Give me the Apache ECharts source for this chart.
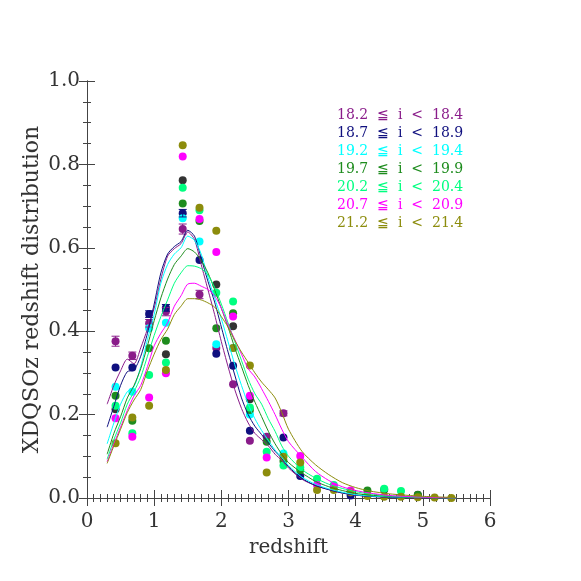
<!DOCTYPE html>
<html>
<head>
<meta charset="utf-8">
<script src="https://cdn.jsdelivr.net/npm/echarts@6/dist/echarts.min.js"></script>
<style>html,body{margin:0;padding:0;background:#fff}#c{width:581px;height:581px}</style>
</head>
<body>
<div id="c"></div>
<script>
// ---------- data ----------
const binNames = ['18.2  ≦  i  <  18.4','18.7  ≦  i  <  18.9','19.2  ≦  i  <  19.4','19.7  ≦  i  <  19.9','20.2  ≦  i  <  20.4','20.7  ≦  i  <  20.9','21.2  ≦  i  <  21.4'];
const binColors = ['#8a1c8a','#10107f','#00ffff','#1e8c1e','#00ff80','#ff00ff','#8c8c0c'];

// redshift grid of the model curves
const zCurve = [0.3,0.4,0.5,0.6,0.7,0.8,0.9,1.0,1.1,1.2,1.3,1.4,1.5,1.6,1.7,1.8,1.9,2.0,2.1,2.2,2.3,2.4,2.5,2.6,2.7,2.8,2.9,3.0,3.2,3.4,3.6,3.8,4.0,4.2,4.5,5.0,5.5];
const curve182 = [.225,.27,.305,.333,.322,.36,.405,.455,.525,.58,.598,.61,.638,.62,.56,.50,.44,.375,.315,.26,.215,.18,.155,.14,.125,.105,.09,.072,.045,.03,.02,.012,.007,.004,.002,0,0];
const curve187 = [.17,.22,.27,.303,.307,.34,.395,.465,.54,.585,.603,.615,.642,.628,.575,.52,.47,.41,.35,.295,.24,.20,.172,.152,.132,.112,.095,.075,.047,.03,.02,.012,.007,.004,.002,0,0];
const curve192 = [.13,.18,.225,.255,.267,.315,.38,.44,.515,.56,.585,.60,.628,.618,.585,.53,.48,.43,.375,.32,.27,.225,.19,.162,.138,.115,.097,.078,.05,.033,.022,.014,.008,.005,.003,.001,0];
const curve197 = [.105,.155,.195,.24,.27,.31,.365,.425,.48,.525,.56,.58,.598,.59,.57,.54,.50,.455,.41,.36,.315,.27,.23,.195,.16,.13,.105,.085,.06,.04,.027,.018,.011,.007,.004,.001,0];
const curve202 = [.093,.14,.18,.225,.255,.29,.34,.39,.435,.475,.515,.54,.557,.556,.55,.535,.505,.465,.42,.375,.33,.285,.25,.225,.19,.16,.125,.10,.068,.048,.033,.023,.015,.01,.005,.002,0];
const curve207 = [.087,.13,.17,.21,.245,.27,.315,.365,.395,.42,.46,.485,.513,.515,.508,.50,.485,.455,.415,.38,.345,.31,.29,.262,.232,.20,.165,.135,.098,.064,.042,.027,.018,.012,.006,.002,0];
const curve212 = [.083,.125,.165,.205,.235,.26,.305,.345,.38,.405,.44,.46,.478,.478,.475,.468,.458,.435,.41,.378,.35,.325,.30,.278,.26,.24,.205,.165,.112,.08,.056,.037,.025,.017,.01,.004,.001];
const curves = [curve182,curve187,curve192,curve197,curve202,curve207,curve212];

// redshift bin centres of the measured points
const zBins = [0.425,0.675,0.925,1.175,1.425,1.675,1.925,2.175,2.425,2.675,2.925,3.175,3.425,3.675,3.925,4.175,4.425,4.675,4.925,5.175,5.425];
const n = null;
const pts182 = [.376,.341,.419,.447,.645,.488,.36,.273,.137,.147,.203,n,n,n,n,n,n,n,n,n,n];
const pts187 = [.313,.313,.441,.456,.683,.571,.346,.317,.161,n,.145,.053,n,n,.006,n,n,n,n,n,n];
const pts192 = [.267,.255,.407,.42,.671,.615,.369,.36,.20,n,.107,n,n,n,n,n,n,n,n,n,n];
const pts197 = [.245,.185,.359,.377,.706,.664,.407,.443,.211,.135,.089,.067,n,n,n,.018,n,n,.007,n,n];
const pts202 = [.221,.155,.295,.325,.744,.69,.492,.471,.217,.111,.078,.074,.046,.031,n,n,.022,.017,n,n,n];
const pts207 = [.191,.147,.241,.299,.819,.669,.59,.435,.245,.097,n,.101,.031,.027,.018,n,n,n,n,n,n];
const pts212 = [.131,.193,.221,.307,.846,.696,.641,.36,.318,.061,.099,.085,.019,.019,.014,.005,.003,.003,.002,.001,0];
const ptsAll = [.213,n,n,.345,.762,n,.512,.412,.237,n,n,n,n,n,n,n,.02,n,.008,n,n];
const points = [pts182,pts187,pts192,pts197,pts202,pts207,pts212];
const err182 = [.012,.009,.009,.01,.012,.01,n,n,n,n,.006,n,n,n,n,n,n,n,n,n,n];
const err187 = [n,n,.008,.008,.009,n,n,n,n,n,n,n,n,n,n,n,n,n,n,n,n];

const xTicks = [0,1,2,3,4,5,6];
const yTicks = [0.0,0.2,0.4,0.6,0.8,1.0];

// ---------- chart ----------
const FONT = 'DejaVu Serif';
const TXT = '#333';
const chart = echarts.init(document.getElementById('c'), null, {renderer:'canvas'});

function pairs(xs, ys){ const out=[]; xs.forEach((x,i)=>{ if(ys[i]!==null) out.push([x,ys[i]]); }); return out; }
function errData(ys, es){ const out=[]; zBins.forEach((x,i)=>{ if(ys[i]!==null && es[i]!==null) out.push([x,ys[i],es[i]]); }); return out; }
function errSeries(name, color, data){
  return {
    type:'custom', name:name, z:3, silent:true,
    renderItem:function(params, api){
      const x=api.value(0), y=api.value(1), e=api.value(2);
      const hi=api.coord([x,y+e]), lo=api.coord([x,y-e]);
      const w=4, st={stroke:color,lineWidth:1};
      return {type:'group',children:[
        {type:'line',shape:{x1:hi[0],y1:hi[1],x2:lo[0],y2:lo[1]},style:st},
        {type:'line',shape:{x1:hi[0]-w,y1:hi[1],x2:hi[0]+w,y2:hi[1]},style:st},
        {type:'line',shape:{x1:lo[0]-w,y1:lo[1],x2:lo[0]+w,y2:lo[1]},style:st}
      ]};
    },
    data:data
  };
}

const series = [];
series.push({type:'scatter', name:'all', data:pairs(zBins, ptsAll), symbolSize:8, itemStyle:{color:'#000'}, z:2});
for(let k=0;k<7;k++){
  series.push({type:'scatter', name:binNames[k], data:pairs(zBins, points[k]), symbolSize:8, itemStyle:{color:binColors[k], opacity:1}, z:2});
}
series.push(errSeries(binNames[0], binColors[0], errData(pts182, err182)));
series.push(errSeries(binNames[1], binColors[1], errData(pts187, err187)));
for(let k=0;k<7;k++){
  series.push({type:'line', name:binNames[k], data:pairs(zCurve, curves[k]), smooth:0.25, showSymbol:false, lineStyle:{color:binColors[k], width:1}, itemStyle:{color:binColors[k]}, z:4});
}

const axisLineStyle = {color:'#444', width:1};
const option = {
  animation:false,
  backgroundColor:'#fff',
  grid:{left:87, right:91, top:81, bottom:83, containLabel:false},
  legend:{
    orient:'vertical', left:327, top:103, itemGap:4, itemWidth:0, itemHeight:0, icon:'none',
    selectedMode:false,
    data:binNames.map((nm,i)=>({name:nm, icon:'none', textStyle:{color:binColors[i]}})),
    textStyle:{fontFamily:FONT, fontSize:14, lineHeight:14}
  },
  xAxis:[
    {type:'value', min:0, max:6, interval:1, position:'bottom',
     name:'redshift', nameLocation:'middle', nameGap:40,
     nameTextStyle:{fontFamily:FONT, fontSize:20, color:TXT},
     axisLine:{show:true, lineStyle:axisLineStyle},
     axisTick:{show:true, inside:true, length:8, lineStyle:axisLineStyle},
     minorTick:{show:true, splitNumber:10, length:4, lineStyle:axisLineStyle},
     axisLabel:{fontFamily:FONT, fontSize:20, color:TXT, margin:14, formatter:v=>String(v)},
     splitLine:{show:false}},
    {type:'value', min:0, max:6, interval:1, position:'top',
     axisLine:{show:true, lineStyle:axisLineStyle},
     axisTick:{show:true, inside:true, length:8, lineStyle:axisLineStyle},
     minorTick:{show:true, splitNumber:10, length:4, lineStyle:axisLineStyle},
     axisLabel:{show:false}, splitLine:{show:false}}
  ],
  yAxis:[
    {type:'value', min:0, max:1, interval:0.2, position:'left',
     name:'XDQSOz redshift distribution', nameLocation:'middle', nameGap:44, nameMoveOverlap:false,
     nameTextStyle:{fontFamily:FONT, fontSize:22, color:TXT},
     axisLine:{show:true, lineStyle:axisLineStyle},
     axisTick:{show:true, inside:true, length:8, lineStyle:axisLineStyle},
     minorTick:{show:true, splitNumber:4, length:4, lineStyle:axisLineStyle},
     axisLabel:{fontFamily:FONT, fontSize:20, color:TXT, margin:7, formatter:v=>v.toFixed(1)},
     splitLine:{show:false}},
    {type:'value', min:0, max:1, interval:0.2, position:'right',
     axisLine:{show:true, lineStyle:axisLineStyle},
     axisTick:{show:true, inside:true, length:8, lineStyle:axisLineStyle},
     minorTick:{show:true, splitNumber:4, length:4, lineStyle:axisLineStyle},
     axisLabel:{show:false}, splitLine:{show:false}}
  ],
  series:series
};
chart.setOption(option);
</script>
</body>
</html>
